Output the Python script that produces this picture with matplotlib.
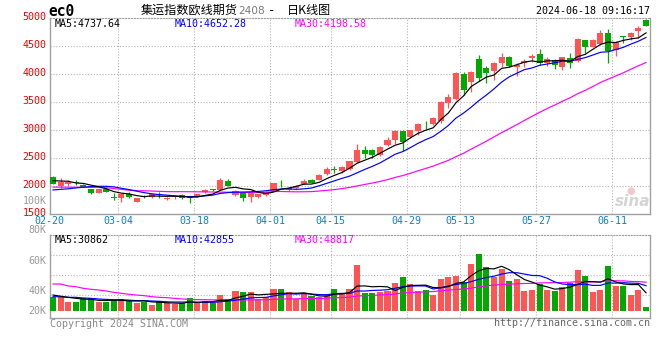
import matplotlib
matplotlib.use("Agg")
import matplotlib.pyplot as plt
from matplotlib import transforms
import numpy as np
import pandas as pd

# ---------------- data ----------------
date_labels = ["02-20", "03-04", "03-18", "04-01", "04-15", "04-29", "05-13", "05-27", "06-11"]
date_index = [0, 9, 19, 29, 37, 47, 54, 64, 74]
price_ticks = [1500, 2000, 2500, 3000, 3500, 4000, 4500, 5000]
vol_tick_labels = ["100K", "80K", "60K", "40K", "20K"]

opens = [2172, 2011, 2035, 2070, 2023, 1952, 1886, 1952, 1805, 1797, 1857, 1726, 1820, 1815, 1852,
         1767, 1810, 1845, 1800, 1815, 1892, 1940, 1934, 2095, 1845, 1875, 1815, 1815, 1845,
         1916, 2060, 1934, 1964, 2041, 2113, 2113, 2220, 2310, 2279, 2309, 2440, 2648, 2648, 2559, 2738,
         2827, 2987, 2874, 2994, 3113, 3113, 3172, 3493, 3565, 4005, 3868, 4267, 4118, 4065, 4208,
         4315, 4136, 4196, 4285, 4357, 4196, 4255, 4136, 4285, 4243, 4612, 4493, 4541, 4737, 4434,
         4678, 4672, 4767, 4969]
highs = [2190, 2154, 2110, 2110, 2040, 1960, 1955, 1965, 1874, 1870, 1900, 1800, 1850, 1870, 1900,
         1810, 1840, 1860, 1830, 1865, 1945, 1960, 2154, 2130, 1940, 1890, 1890, 1870, 1915,
         2060, 2113, 1995, 2030, 2125, 2130, 2215, 2350, 2363, 2368, 2460, 2755, 2720, 2660, 2720, 2886,
         3005, 3000, 3010, 3125, 3166, 3230, 3515, 3648, 4047, 4047, 4065, 4345, 4148, 4225, 4386,
         4333, 4208, 4267, 4357, 4446, 4303, 4267, 4315, 4386, 4642, 4612, 4630, 4791, 4809, 4600,
         4690, 4760, 4868, 4987]
lows = [2035, 1964, 2000, 2030, 1985, 1870, 1880, 1895, 1755, 1725, 1785, 1720, 1790, 1800, 1800,
        1760, 1780, 1780, 1695, 1810, 1885, 1910, 1930, 2000, 1835, 1738, 1726, 1790, 1835,
        1910, 1994, 1925, 1955, 2035, 2055, 2105, 2210, 2244, 2232, 2300, 2410, 2511, 2500, 2540, 2720,
        2756, 2636, 2860, 2916, 3017, 3090, 3124, 3392, 3541, 3630, 3690, 3886, 3839, 3898, 4136,
        4136, 3970, 4136, 4225, 4166, 4148, 4089, 4077, 4106, 4226, 4386, 4480, 4523, 4202, 4333,
        4553, 4612, 4640, 4868]
closes = [2041, 2083, 2083, 2055, 1994, 1886, 1946, 1904, 1797, 1857, 1815, 1797, 1812, 1857, 1840,
          1797, 1815, 1785, 1793, 1857, 1934, 1934, 2113, 2005, 1922, 1797, 1875, 1857, 1904,
          2053, 2053, 1976, 2011, 2095, 2065, 2202, 2309, 2300, 2351, 2452, 2648, 2577, 2559, 2708, 2827,
          2993, 2785, 3005, 3113, 3105, 3214, 3511, 3601, 4029, 3720, 4047, 3940, 4017, 4208, 4315,
          4154, 4160, 4243, 4327, 4196, 4273, 4166, 4303, 4208, 4624, 4481, 4612, 4737, 4422, 4583,
          4672, 4745, 4830, 4870]
volumes = [24200, 23100, 15800, 15800, 21400, 22500, 14600, 14600, 18600, 20300, 16900, 14100, 15800,
           10100, 16900, 12900, 11300, 14100, 21400, 12900, 16900, 12900, 27000, 19700, 33800, 31500,
           31500, 19700, 24200, 37200, 37200, 31500, 19700, 28200, 25400, 23100, 28700, 37200, 29900,
           37200, 77700, 29900, 29900, 32700, 33800, 46800, 56900, 45600, 33800, 35500, 27000, 53500,
           56900, 59700, 48500, 79400, 96300, 74900, 56900, 70400, 50700, 53500, 34400, 35500, 45100,
           35500, 33800, 40000, 46800, 69300, 59200, 32700, 35500, 76100, 42300, 42300, 27000, 35500,
           7000]

# moving-average values before enough history is visible
ma5_head = [2100, 2095, 2090, 2060]
ma10_head = [1935, 1945, 1955, 1970, 1985, 1995, 2000, 2000, 1990]
ma30_head = [1985, 1985, 1984, 1983, 1982, 1980, 1978, 1975, 1960, 1945, 1930, 1922, 1920, 1915, 1910,
             1905, 1904, 1904, 1903, 1902, 1900, 1898, 1896, 1895, 1894, 1893, 1892, 1892, 1892]
vma5_head = [27000, 25000, 23100, 21400]
vma10_head = [24200, 24000, 23100, 23100, 22000, 21400, 20300, 19700, 19000]
vma30_head = [45600, 45600, 42300, 41100, 38300, 36700, 35500, 33800, 31500, 29900, 28200, 27000,
              25900, 24200, 23100, 22500, 21400, 20300, 19700, 19200, 19000, 18800, 18700, 18600,
              18600, 18600, 18700, 18800, 19000]

price_ma_text = ["MA5:4737.64", "MA10:4652.28", "MA30:4198.58"]
vol_ma_text = ["MA5:30862", "MA10:42855", "MA30:48817"]
title_main = "集运指数欧线期货"
title_code = "2408"
title_tail = "日K线图"
symbol = "ec0"
timestamp = "2024-06-18 09:16:17"


def moving(values, window, head):
    s = pd.Series(values, dtype=float).rolling(window).mean().to_numpy()
    s[:len(head)] = head
    return s


# ---------------- layout ----------------
W, H = 660, 360
fig = plt.figure(figsize=(W / 100, H / 100), dpi=100)
fig.patch.set_facecolor("white")


def fx(p):
    return p / W


def fy(p):
    return 1 - p / H


L, R = 50, 650
main_top, main_bot = 18.3, 214.3
vol_top, vol_bot = 235, 318
vol_base_px = 311
vscale = 1690.0  # volume units per pixel
step, x0 = 7.603, 53.0

n = len(closes)
idx = np.arange(n)
xlim = ((L - x0) / step, (R - x0) / step)

ax = fig.add_axes([fx(L), fy(main_bot), (R - L) / W, (main_bot - main_top) / H])
axv = fig.add_axes([fx(L), fy(vol_bot), (R - L) / W, (vol_bot - vol_top) / H])

RED, GREEN = "#ff5555", "#00a800"
MONO = "DejaVu Sans Mono"
FS = 7.2
grid_kw = dict(color="#b4b4b4", linewidth=0.8, linestyle=(0, (1, 1.6)), zorder=1)
BORDER = "#a0a0a0"
LW_MA = 0.85

for a in (ax, axv):
    a.set_xlim(xlim)
    a.set_xticks([])
    a.set_yticks([])
    a.set_facecolor("white")
    for s in ("left", "bottom", "right"):
        a.spines[s].set_color(BORDER)
        a.spines[s].set_linewidth(1.0)
    a.spines["top"].set_color(BORDER)
    a.spines["top"].set_linestyle((0, (1, 1.6)))
    a.spines["top"].set_linewidth(0.8)
    for p in date_index[1:]:
        a.axvline(p - 0.46, **grid_kw)

ax.set_ylim(price_ticks[0], price_ticks[-1])
for v in price_ticks[1:-1]:
    ax.axhline(v, **grid_kw)

vol_lo = -(vol_bot - vol_base_px) * vscale
vol_hi = (vol_base_px - vol_top) * vscale
axv.set_ylim(vol_lo, vol_hi)
for gpx in (255, 275, 295):
    axv.axhline((vol_base_px - gpx) * vscale, **grid_kw)

# ---------------- candles ----------------
o = np.array(opens, float)
c = np.array(closes, float)
h = np.array(highs, float)
l = np.array(lows, float)
cols = np.where(c >= o, RED, GREEN)
ax.vlines(idx, l, h, colors=cols, linewidth=0.9, zorder=3)
body_bottom = np.minimum(o, c)
body_h = np.maximum(np.abs(c - o), 14)
ax.bar(idx, body_h, bottom=body_bottom, width=0.8, color=cols, linewidth=0, zorder=4)

ma5 = moving(closes, 5, ma5_head)
ma10 = moving(closes, 10, ma10_head)
ma30 = moving(closes, 30, ma30_head)
ax.plot(idx, ma30, color="#ff00ff", linewidth=LW_MA, zorder=5)
ax.plot(idx, ma10, color="#0000ff", linewidth=LW_MA, zorder=5)
ax.plot(idx, ma5, color="black", linewidth=LW_MA, zorder=6)

# ---------------- volume ----------------
axv.bar(idx, volumes, width=0.8, color=cols, linewidth=0, zorder=3)
vma5 = moving(volumes, 5, vma5_head)
vma10 = moving(volumes, 10, vma10_head)
vma30 = moving(volumes, 30, vma30_head)
axv.plot(idx, vma30, color="#ff00ff", linewidth=LW_MA, zorder=5)
axv.plot(idx, vma10, color="#0000ff", linewidth=LW_MA, zorder=5)
axv.plot(idx, vma5, color="black", linewidth=LW_MA, zorder=6)

# ---------------- text ----------------
off_up = transforms.ScaledTranslation(-3.5 / 100, 1.5 / 100, fig.dpi_scale_trans)
ytr = ax.get_yaxis_transform() + off_up
for v in price_ticks:
    ax.text(0, v, str(v), transform=ytr, ha="right", va="center", color="#ee0000",
            fontsize=FS, family=MONO, clip_on=False)

xtr = transforms.blended_transform_factory(ax.transData, fig.transFigure)
for lab, p in zip(date_labels, date_index):
    ax.text(p - 0.46, fy(221), lab, transform=xtr, ha="center", va="center",
            color="#0a7fcf", fontsize=FS, family=MONO, clip_on=False)

vol_label_px = [201, 230, 261, 291, 311]
for lab, py in zip(vol_tick_labels, vol_label_px):
    fig.text(fx(46.5), fy(py), lab, ha="right", va="center", color="#9a9a9a",
             fontsize=FS, family=MONO)

ma_cols = ["black", "#0000ff", "#ff00ff"]
for t, col, px in zip(price_ma_text, ma_cols, (55, 175, 295)):
    fig.text(fx(px), fy(24), t, ha="left", va="center", color=col, fontsize=FS, family=MONO)
for t, col, px in zip(vol_ma_text, ma_cols, (55, 175, 295)):
    fig.text(fx(px), fy(240), t, ha="left", va="center", color=col, fontsize=FS, family=MONO)

fig.text(fx(48), fy(11.5), symbol, ha="left", va="center", color="black", fontsize=10.5,
         family=MONO, fontweight="bold")
fig.text(fx(141), fy(10.5), title_main, ha="left", va="center", color="black", fontsize=8.7,
         family=["Noto Sans CJK SC", "DejaVu Sans"])
fig.text(fx(238), fy(11), title_code, ha="left", va="center", color="#7a7a7a", fontsize=7.6,
         family="DejaVu Sans")
fig.text(fx(272), fy(10.5), "-", ha="center", va="center", color="black", fontsize=9,
         family=MONO)
fig.text(fx(287), fy(10.5), title_tail, ha="left", va="center", color="black", fontsize=8.7,
         family=["Noto Sans CJK SC", "DejaVu Sans"])
fig.text(fx(650), fy(11.5), timestamp, ha="right", va="center", color="black", fontsize=FS,
         family=MONO)

fig.text(fx(50), fy(324), "Copyright 2024 SINA.COM", ha="left", va="center", color="#8a8a8a",
         fontsize=FS, family=MONO)
fig.text(fx(650), fy(323.5), "http://finance.sina.com.cn", ha="right", va="center",
         color="#666666", fontsize=FS, family=MONO)

fig.text(fx(633), fy(202), "sina", ha="center", va="center", color="#d4d4d4", fontsize=11,
         fontweight="bold", fontstyle="italic", family="DejaVu Sans")
fig.text(fx(631), fy(191), "●", ha="center", va="center", color="#f3c8c8", fontsize=7,
         family="DejaVu Sans")

fig.savefig("out.png", dpi=100, facecolor="white")
